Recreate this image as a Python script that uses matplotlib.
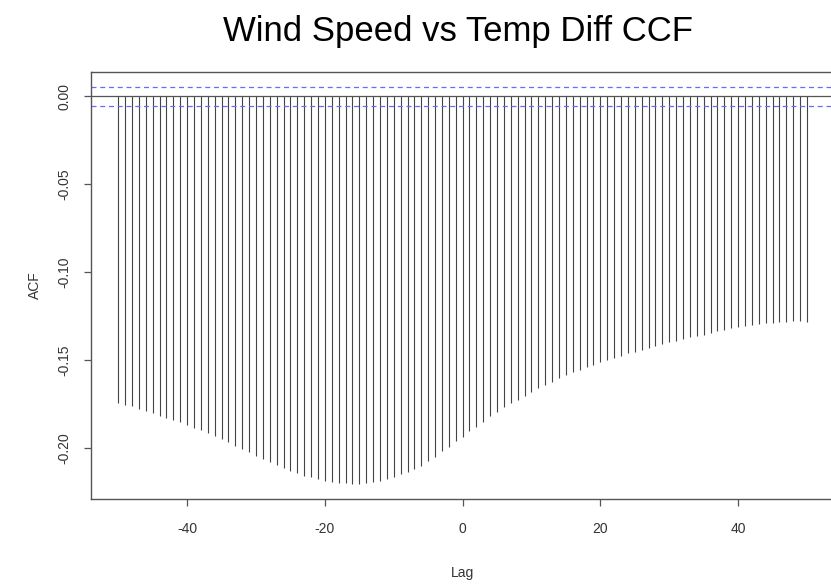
import matplotlib
matplotlib.use("Agg")
import matplotlib.pyplot as plt
import numpy as np

plt.rcParams['font.family'] = ['Liberation Sans', 'DejaVu Sans']

# lags and cross-correlation values
lags = np.arange(-50, 51)
ccf = [-0.1740, -0.1752, -0.1762, -0.1776, -0.1788, -0.1800, -0.1814, -0.1826, -0.1838, -0.1852,
       -0.1866, -0.1882, -0.1897, -0.1914, -0.1930, -0.1948, -0.1967, -0.1985, -0.2004, -0.2023,
       -0.2043, -0.2061, -0.2080, -0.2097, -0.2112, -0.2130, -0.2143, -0.2156, -0.2164, -0.2175,
       -0.2184, -0.2191, -0.2198, -0.2200, -0.2203, -0.2201, -0.2196, -0.2192, -0.2184, -0.2173,
       -0.2161, -0.2149, -0.2135, -0.2119, -0.2099, -0.2075, -0.2048, -0.2018, -0.1992, -0.1960,
       -0.1934,
       -0.1902, -0.1877, -0.1849, -0.1818, -0.1792, -0.1767, -0.1743, -0.1724, -0.1701, -0.1679,
       -0.1659, -0.1640, -0.1621, -0.1602, -0.1585, -0.1569, -0.1555, -0.1540, -0.1524, -0.1510,
       -0.1498, -0.1485, -0.1474, -0.1461, -0.1451, -0.1439, -0.1428, -0.1418, -0.1407, -0.1398,
       -0.1389, -0.1379, -0.1370, -0.1362, -0.1355, -0.1346, -0.1335, -0.1327, -0.1318, -0.1310,
       -0.1305, -0.1299, -0.1294, -0.1290, -0.1286, -0.1282, -0.1280, -0.1279, -0.1279, -0.1281]
conf_limit = 0.0054
xticks = [-40, -20, 0, 20, 40]
yticks = [-0.20, -0.15, -0.10, -0.05, 0.00]

W, H = 831, 586
fig = plt.figure(figsize=(W / 100, H / 100), dpi=100)
ax = fig.add_axes([90.7 / W, 1 - 499.3 / H, (834.5 - 90.7) / W, (499.3 - 71.7) / H])

ax.vlines(lags, 0, ccf, color='#444444', lw=0.8)
ax.axhline(0, color='#555555', lw=0.9)
ax.axhline(conf_limit, color='#6a6aff', lw=0.9, ls=(0, (4, 3)))
ax.axhline(-conf_limit, color='#6a6aff', lw=0.9, ls=(0, (4, 3)))

ax.set_xlim(-54, 54)
ax.set_ylim(-0.2290, 0.0140)
ax.set_xticks(xticks)
ax.set_xticklabels([str(t) for t in xticks])
ax.set_yticks(yticks)
ax.set_yticklabels(['%.2f' % t for t in yticks], rotation=90, va='center')

for s in ax.spines.values():
    s.set_color('#555555')
    s.set_linewidth(1.0)
ax.tick_params(direction='out', length=5, width=0.9, color='#555555',
               labelsize=10, labelcolor='#333333')
ax.tick_params(axis='x', pad=11)
ax.tick_params(axis='y', pad=9)

fig.text(458 / W, 1 - 32 / H, 'Wind Speed vs Temp Diff CCF', fontsize=25,
         ha='center', va='center', color='black')
fig.text(462 / W, 1 - 573 / H, 'Lag', fontsize=10, ha='center', va='center', color='#333333')
fig.text(35 / W, 1 - 285 / H, 'ACF', fontsize=10, ha='center', va='center',
         rotation=90, color='#333333')

fig.savefig('out.png', dpi=100)
